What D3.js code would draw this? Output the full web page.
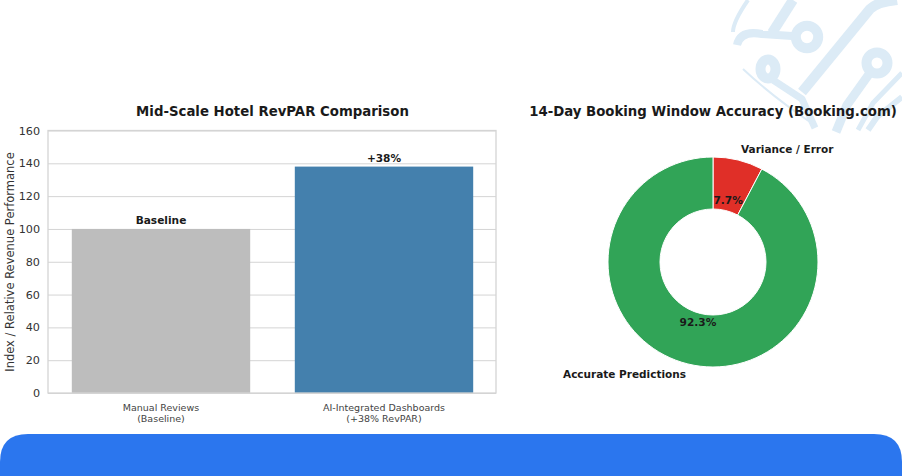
<!DOCTYPE html>
<html>
<head>
<meta charset="utf-8">
<script src="https://cdn.jsdelivr.net/npm/d3@7"></script>
<style>
html, body { margin: 0; padding: 0; background: #fff; }
svg { display: block; }
text { font-family: "DejaVu Sans", sans-serif; }
</style>
</head>
<body>
<svg width="902" height="476"></svg>
<script>
var barLabels = ["Manual Reviews\n(Baseline)", "AI-Integrated Dashboards\n(+38% RevPAR)"];
var barValues = [100, 138];
var barColors = ["#bdbdbd", "#4480ad"];
var barNotes = ["Baseline", "+38%"];
var yTicks = [0, 20, 40, 60, 80, 100, 120, 140, 160];

var donutNames = ["Variance / Error", "Accurate Predictions"];
var donutValues = [7.7, 92.3];
var donutColors = ["#e02f28", "#31a457"];

var svg = d3.select("svg");
var gridColor = "#d4d4d4";

// background decoration, top right corner
var deco = svg.append("g")
	.attr("fill", "none")
	.attr("stroke", "#dcebf6")
	.attr("stroke-linejoin", "round");

var decoLines = [
	["M748 0 C739 13 733 24 733 32", 4],
	["M793 0 L772 33", 10],
	["M807 37 L762 34 C746 31 739 36 737 45", 8],
	["M897 0 C885 2 878 2 870 9 L802 92", 10],
	["M773 80 L802 99 L815 128", 7],
	["M877 63 L847 105 L836 132", 9],
	["M743 69 C760 85 785 105 813 124", 2],
	["M902 73 L873 103 L858 130", 5],
	["M902 97 L877 117 L868 130", 6]
];
decoLines.forEach(function (d) {
	deco.append("path").attr("d", d[0]).attr("stroke-width", d[1]);
});

var decoRings = [[807, 37, 11.2, 11.2], [877, 63, 10.5, 10.5], [768, 69, 7.5, 9.5]];
decoRings.forEach(function (d) {
	deco.append("ellipse")
	.attr("cx", d[0]).attr("cy", d[1])
	.attr("rx", d[2]).attr("ry", d[3])
	.attr("stroke-width", 10)
	.attr("fill", "#fff");
});

// footer band
svg.append("path")
	.attr("d", "M0 476 L0 462 Q0 434 28 434 L874 434 Q902 434 902 462 L902 476 Z")
	.attr("fill", "#2b76ee");

// left chart
var x = d3.scaleBand().domain(barLabels).range([49.5, 495.5]).padding(0.2).paddingOuter(0.1);
var y = d3.scaleLinear().domain([0, 160]).range([393, 130.5]);

var grid = svg.append("g")
	.attr("transform", "translate(48,0)")
	.call(d3.axisLeft(y).tickValues(yTicks).tickSize(-448).tickFormat(""));
grid.select(".domain").remove();
grid.selectAll("line").attr("stroke", gridColor).attr("stroke-width", 1);

barValues.forEach(function (d, i) {
	svg.append("rect")
	.attr("x", x(barLabels[i]))
	.attr("y", y(d))
	.attr("width", x.bandwidth())
	.attr("height", y(0) - y(d))
	.attr("fill", barColors[i]);

	svg.append("text")
	.text(barNotes[i])
	.attr("x", x(barLabels[i]) + x.bandwidth() / 2)
	.attr("y", y(d) - 4.5)
	.attr("text-anchor", "middle")
	.attr("font-size", "10.6px")
	.attr("font-weight", "bold")
	.attr("fill", "#1a1a1a");
});

svg.append("rect")
	.attr("x", 48).attr("y", 130.5)
	.attr("width", 448).attr("height", 262.5)
	.attr("fill", "none")
	.attr("stroke", gridColor)
	.attr("stroke-width", 1.3);

var left = svg.append("g")
	.attr("transform", "translate(48,0)")
	.call(d3.axisLeft(y).tickValues(yTicks).tickSize(0).tickPadding(8));
left.select(".domain").remove();
left.selectAll("text")
	.attr("font-size", "11.2px")
	.attr("font-family", "DejaVu Sans")
	.attr("fill", "#333");

var bottom = svg.append("g")
	.attr("transform", "translate(0,393)")
	.call(d3.axisBottom(x).tickSize(0).tickFormat(""));
bottom.select(".domain").remove();

barLabels.forEach(function (d) {
	var parts = d.split("\n");
	parts.forEach(function (p, j) {
		svg.append("text")
		.text(p)
		.attr("x", x(d) + x.bandwidth() / 2)
		.attr("y", 410.5 + j * 11)
		.attr("text-anchor", "middle")
		.attr("font-size", "9.5px")
		.attr("fill", "#444");
	});
});

svg.append("text")
	.text("Index / Relative Revenue Performance")
	.attr("transform", "translate(14,262) rotate(-90)")
	.attr("text-anchor", "middle")
	.attr("font-size", "11.5px")
	.attr("fill", "#333");

svg.append("text")
	.text("Mid-Scale Hotel RevPAR Comparison")
	.attr("x", 272.5)
	.attr("y", 116)
	.attr("text-anchor", "middle")
	.attr("font-size", "13.3px")
	.attr("font-weight", "bold")
	.attr("fill", "#1a1a1a");

// right chart
var cx = 713, cy = 262;
var outerR = 105, innerR = 53;

var pie = d3.pie().sort(null).value(function (d) { return d; });
var arc = d3.arc().innerRadius(innerR).outerRadius(outerR);

var donut = svg.append("g").attr("transform", "translate(" + cx + "," + cy + ")");

pie(donutValues).forEach(function (d, i) {
	donut.append("path")
	.attr("d", arc(d))
	.attr("fill", donutColors[i])
	.attr("stroke", "#fff")
	.attr("stroke-width", 1);

	var mid = (d.startAngle + d.endAngle) / 2;
	donut.append("text")
	.text(donutValues[i].toFixed(1) + "%")
	.attr("x", Math.sin(mid) * outerR * 0.6)
	.attr("y", -Math.cos(mid) * outerR * 0.6 - 0.5)
	.attr("dy", "0.35em")
	.attr("text-anchor", "middle")
	.attr("font-size", "10.6px")
	.attr("font-weight", "bold")
	.attr("fill", "#1a1a1a");
});

svg.append("text")
	.text(donutNames[0])
	.attr("x", 741)
	.attr("y", 153)
	.attr("font-size", "10.5px")
	.attr("font-weight", "bold")
	.attr("fill", "#1a1a1a");

svg.append("text")
	.text(donutNames[1])
	.attr("x", 563)
	.attr("y", 378)
	.attr("font-size", "10.5px")
	.attr("font-weight", "bold")
	.attr("fill", "#1a1a1a");

svg.append("text")
	.text("14-Day Booking Window Accuracy (Booking.com)")
	.attr("x", 713)
	.attr("y", 116)
	.attr("text-anchor", "middle")
	.attr("font-size", "13.3px")
	.attr("font-weight", "bold")
	.attr("fill", "#1a1a1a");
</script>
</body>
</html>
